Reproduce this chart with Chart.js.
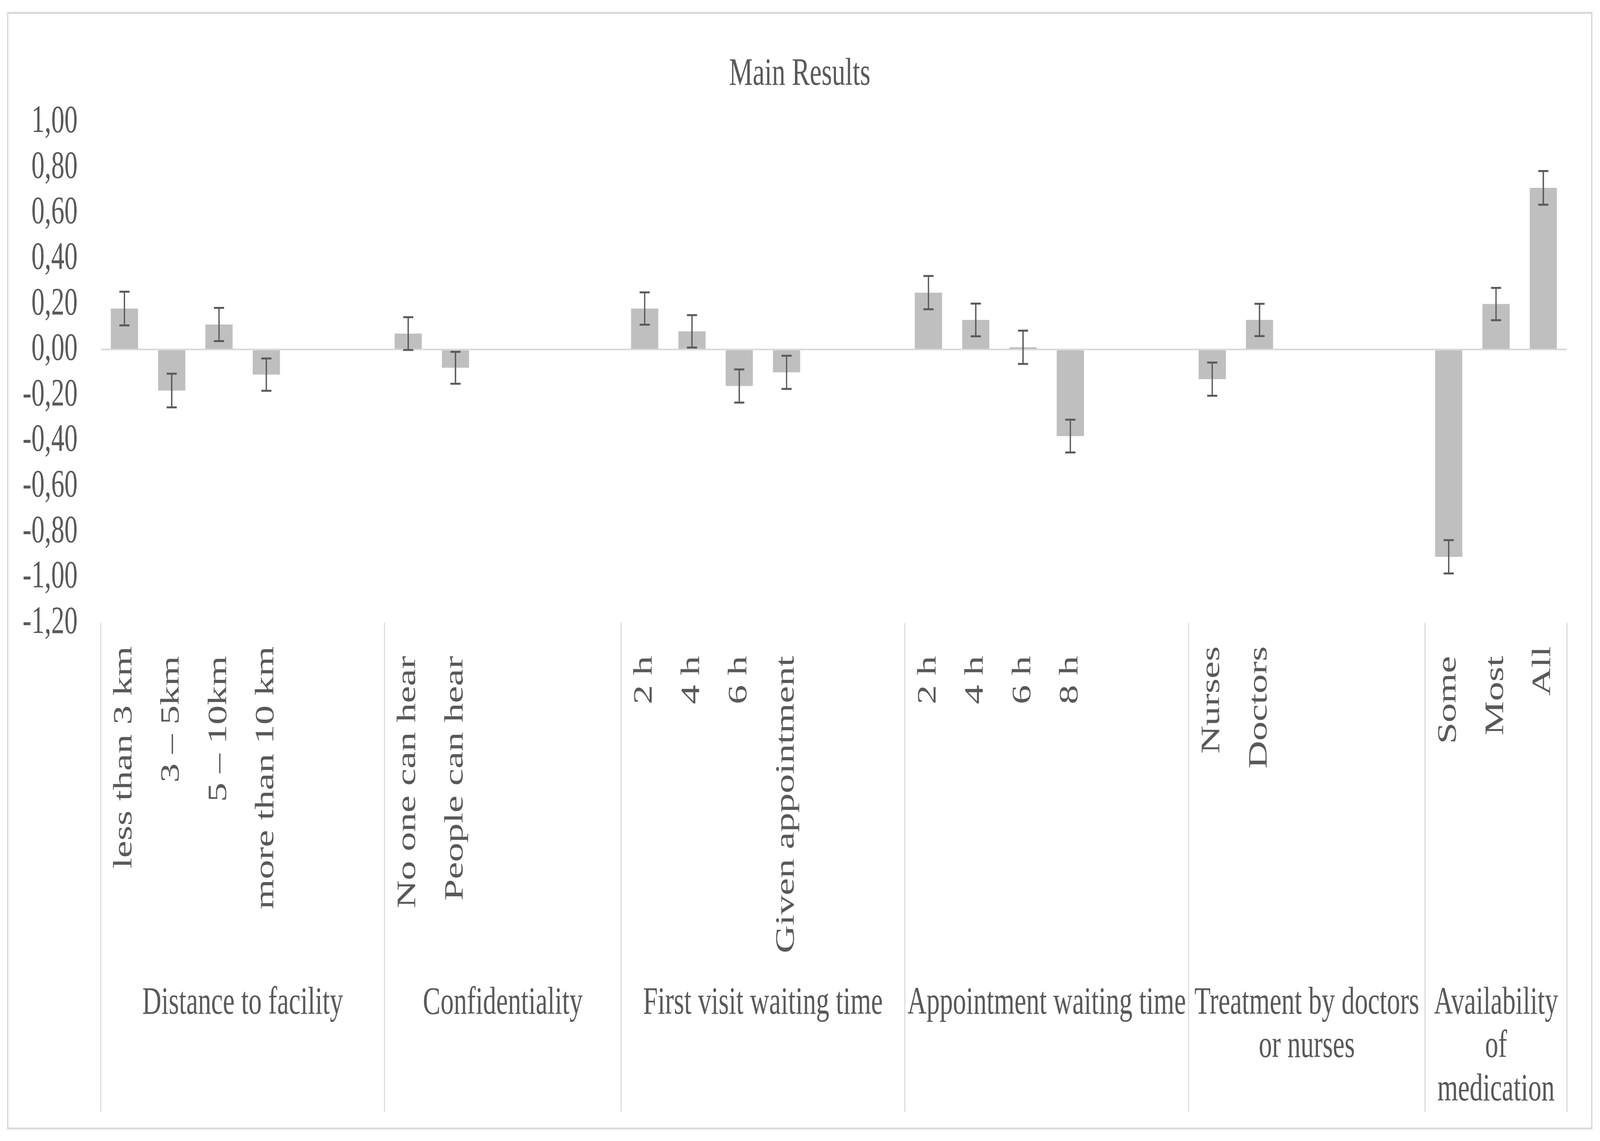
<!DOCTYPE html>
<html>
<head>
<meta charset="utf-8">
<title>Main Results</title>
<script src="https://cdn.jsdelivr.net/npm/chart.js@4.4.1/dist/chart.umd.min.js"></script>
<style>
  html, body { margin: 0; padding: 0; background: #ffffff; overflow: hidden; }
  #viewport { position: absolute; left: 0; top: 0; overflow: hidden; }
  #chartBox { width: 6002px; height: 2922px; transform-origin: 0 0; }
</style>
</head>
<body>
<div id="viewport"><div id="chartBox"><canvas id="mainChart" width="6002" height="2922"></canvas></div></div>
<script>
// category slots, empty strings are the blank slots Excel leaves in each group
var slotLabels = [
    'less than 3 km', '3 – 5km ', '5 – 10km ', 'more than 10 km', '', '',
    'No one can hear ', 'People can hear ', '', '', '',
    '2 h ', '4 h ', '6 h ', 'Given appointment ', '', '',
    '2 h ', '4 h ', '6 h ', '8 h ', '', '',
    'Nurses', 'Doctors', '', '', '',
    'Some ', 'Most ', 'All'
];
var meanValues = [
    0.18, -0.18, 0.11, -0.11, null, null,
    0.07, -0.08, null, null, null,
    0.18, 0.08, -0.16, -0.10, null, null,
    0.25, 0.13, 0.01, -0.38, null, null,
    -0.13, 0.13, null, null, null,
    -0.91, 0.20, 0.71
];
var errValues = [
    0.074, 0.074, 0.073, 0.071, null, null,
    0.072, 0.070, null, null, null,
    0.071, 0.071, 0.073, 0.073, null, null,
    0.073, 0.072, 0.073, 0.072, null, null,
    0.073, 0.071, null, null, null,
    0.073, 0.071, 0.074
];
var groupNames = [
    ['Distance to facility'],
    ['Confidentiality'],
    ['First visit waiting time'],
    ['Appointment waiting time'],
    ['Treatment by doctors', 'or nurses'],
    ['Availability', 'of', 'medication']
];
var groupSlots = [6, 5, 6, 6, 5, 3];
var yTicks = { min: -1.2, max: 1.0, step: 0.2 };

var textColor = '#595959';
var lineGray = '#d9d9d9';
var fontFamily = "'Liberation Serif', 'Times New Roman', serif";

// the chart is laid out at 6002x2922, stretch it onto whatever the window really is
var scaleX = window.innerWidth / 6002;
var scaleY = window.innerHeight / 2922;
var viewport = document.getElementById('viewport');
viewport.style.width = window.innerWidth + 'px';
viewport.style.height = window.innerHeight + 'px';
document.getElementById('chartBox').style.transform = 'scale(' + scaleX + ',' + scaleY + ')';

Chart.defaults.font.family = fontFamily;
Chart.defaults.font.size = 99;
Chart.defaults.color = textColor;

//Error bars drawn on top of each bar
var errorBars = {
    id: 'errorBars',
    afterDatasetsDraw: function(chart) {
        var ctx = chart.ctx;
        var yScale = chart.scales.y;
        var meta = chart.getDatasetMeta(0);
        ctx.save();
        ctx.strokeStyle = textColor;
        ctx.lineWidth = 5;
        meta.data.forEach(function(bar, i) {
            if (meanValues[i] === null || errValues[i] === null) {
                return;
            }
            var top = yScale.getPixelForValue(meanValues[i] + errValues[i]);
            var bottom = yScale.getPixelForValue(meanValues[i] - errValues[i]);
            ctx.beginPath();
            ctx.moveTo(bar.x, top);
            ctx.lineTo(bar.x, bottom);
            ctx.moveTo(bar.x - 19, top);
            ctx.lineTo(bar.x + 19, top);
            ctx.moveTo(bar.x - 19, bottom);
            ctx.lineTo(bar.x + 19, bottom);
            ctx.stroke();
        });
        ctx.restore();
    }
};

//Frame, title and the second level of the category axis
var chartFrame = {
    id: 'chartFrame',
    beforeDraw: function(chart) {
        var ctx = chart.ctx;
        ctx.save();
        ctx.fillStyle = '#ffffff';
        ctx.fillRect(0, 0, chart.width, chart.height);
        ctx.strokeStyle = lineGray;
        ctx.lineWidth = 5;
        ctx.strokeRect(29, 33, 5942, 2857);
        ctx.restore();
    },
    afterDraw: function(chart) {
        var ctx = chart.ctx;
        var xScale = chart.scales.x;
        var area = chart.chartArea;
        ctx.save();

        ctx.fillStyle = textColor;
        ctx.font = '100px ' + fontFamily;
        ctx.textAlign = 'center';
        ctx.textBaseline = 'middle';
        ctx.fillText('Main Results', 3000, 191);

        ctx.strokeStyle = lineGray;
        ctx.lineWidth = 4;
        ctx.font = '99px ' + fontFamily;
        var start = 0;
        var edges = [xScale.getPixelForValue(-0.5)];
        groupSlots.forEach(function(count) {
            start += count;
            edges.push(xScale.getPixelForValue(start - 0.5));
        });
        edges.forEach(function(x) {
            ctx.beginPath();
            ctx.moveTo(x, area.bottom);
            ctx.lineTo(x, area.bottom + 1252);
            ctx.stroke();
        });
        groupNames.forEach(function(lines, g) {
            var cx = (edges[g] + edges[g + 1]) / 2;
            lines.forEach(function(line, j) {
                ctx.fillText(line, cx, area.bottom + 975 + j * 111);
            });
        });
        ctx.restore();
    }
};

new Chart(document.getElementById('mainChart').getContext('2d'), {
    type: 'bar',
    data: {
        labels: slotLabels,
        datasets: [{
            label: 'Main Results',
            data: meanValues,
            backgroundColor: '#bfbfbf',
            borderWidth: 0,
            barPercentage: 0.575,
            categoryPercentage: 1.0
        }]
    },
    options: {
        responsive: false,
        animation: false,
        devicePixelRatio: 1,
        layout: {
            padding: { top: 312, right: 124, bottom: 0, left: 0 }
        },
        plugins: {
            legend: { display: false },
            title: { display: false },
            tooltip: { enabled: false }
        },
        scales: {
            x: {
                grid: { display: false, drawTicks: false },
                border: { display: false },
                ticks: {
                    autoSkip: false,
                    minRotation: 90,
                    maxRotation: 90,
                    padding: 60,
                    color: textColor
                },
                afterFit: function(scale) {
                    scale.height = 1327;
                    scale.paddingLeft = 0;
                    scale.paddingRight = 0;
                }
            },
            y: {
                min: yTicks.min,
                max: yTicks.max,
                grid: {
                    drawTicks: false,
                    lineWidth: 4,
                    color: function(ctx) {
                        return Math.abs(ctx.tick.value) < 1e-9 ? lineGray : 'rgba(0,0,0,0)';
                    }
                },
                border: { display: false },
                ticks: {
                    autoSkip: false,
                    stepSize: yTicks.step,
                    padding: 87,
                    color: textColor,
                    callback: function(value) {
                        return value.toFixed(2).replace('.', ',');
                    }
                },
                afterFit: function(scale) {
                    scale.width = 378;
                }
            }
        }
    },
    plugins: [chartFrame, errorBars]
});
</script>
</body>
</html>
